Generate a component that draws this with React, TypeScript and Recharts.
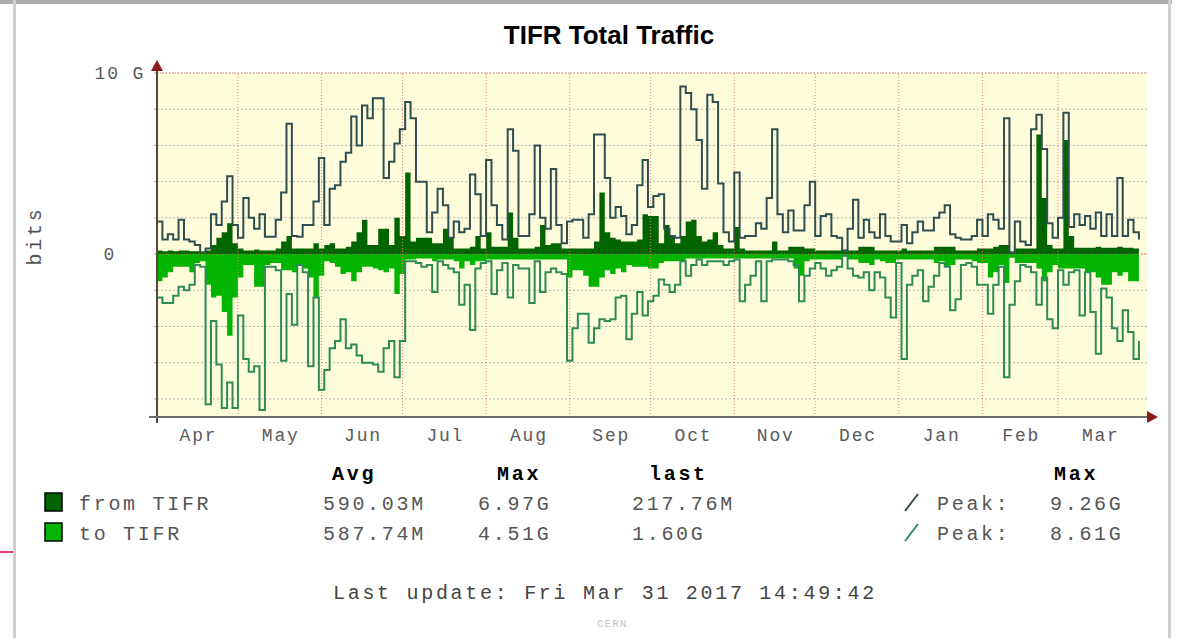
import {
  ComposedChart,
  Area,
  Line,
  XAxis,
  YAxis,
  CartesianGrid,
  ReferenceLine,
} from "recharts";

// one sample every 2 days, starting Apr 1 2016 (values in Gbit/s)
const STEP_DAYS = 2;

const fromMax = [
  1.8, 0.8, 1.1, 0.8, 1.9, 0.8, 0.7, 0.5, 0.1, 0.3,
  2.2, 1.6, 2.9, 4.3, 1.6, 0.9, 3.1, 2.0, 1.4, 2.2,
  0.95, 0.95, 1.9, 3.4, 7.2, 1.0, 0.95, 1.6, 1.6, 2.9,
  5.3, 1.6, 3.6, 3.8, 5.1, 5.6, 7.6, 6.0, 8.2, 7.5,
  8.6, 8.6, 4.2, 5.1, 6.1, 6.9, 8.4, 7.5, 4.0, 4.0,
  1.2, 2.3, 3.6, 2.7, 0.9, 1.8, 1.2, 1.4, 4.4, 3.3,
  1.0, 5.2, 2.7, 1.6, 0.8, 6.9, 5.7, 1.0, 1.0, 2.2,
  6.0, 2.0, 1.4, 4.7, 1.6, 0.6, 1.8, 1.9, 1.9, 0.9,
  2.2, 6.6, 6.6, 4.2, 2.0, 2.6, 2.1, 1.1, 1.6, 3.8,
  5.2, 2.6, 3.2, 3.3, 1.4, 1.0, 0.9, 9.26, 8.9, 8.0,
  6.3, 3.6, 8.8, 8.4, 3.9, 1.2, 0.7, 4.5, 0.9, 1.0,
  1.0, 1.7, 1.4, 3.1, 6.9, 2.2, 1.2, 2.4, 1.3, 1.3,
  2.7, 4.0, 1.0, 2.1, 2.2, 1.0, 0.9, 0.2, 1.4, 3.0,
  0.9, 1.9, 1.2, 0.9, 2.2, 1.0, 0.7, 0.7, 1.6, 0.6,
  1.2, 1.8, 1.3, 1.3, 2.0, 2.3, 2.7, 1.1, 0.9, 0.8,
  0.8, 1.0, 1.9, 1.0, 2.2, 1.9, 1.4, 7.5, 0.1, 1.8,
  0.7, 0.5, 6.9, 7.7, 5.8, 1.7, 0.9, 2.0, 7.8, 1.5,
  2.2, 1.6, 2.1, 1.4, 2.3, 1.0, 2.2, 1.0, 4.2, 1.0,
  1.9, 1.2, 0.8,
];

const fromAvg = [
  0.2, 0.15, 0.2, 0.15, 0.2, 0.2, 0.15, 0.15, 0.1, 0.2,
  0.5, 0.9, 1.2, 1.7, 0.6, 0.3, 0.2, 0.2, 0.25, 0.2,
  0.2, 0.2, 0.3, 0.7, 1.0, 0.3, 0.3, 0.3, 0.3, 0.6,
  0.3, 0.5, 0.6, 0.3, 0.3, 0.4, 0.7, 1.2, 1.9, 0.5,
  0.5, 1.4, 1.4, 0.5, 2.0, 1.0, 4.5, 0.7, 0.9, 0.9,
  0.9, 0.6, 0.6, 1.4, 0.9, 0.3, 0.3, 0.3, 0.4, 1.0,
  0.3, 1.2, 0.4, 0.4, 0.4, 2.3, 0.9, 0.3, 0.3, 0.3,
  0.4, 1.6, 0.5, 0.6, 0.6, 0.3, 0.3, 0.3, 0.3, 0.3,
  0.3, 0.7, 3.4, 1.2, 0.9, 0.8, 0.7, 0.7, 0.7, 0.8,
  2.2, 2.1, 2.1, 0.6, 1.6, 1.0, 0.6, 1.0, 1.8, 1.9,
  1.0, 0.7, 0.8, 1.2, 0.5, 0.3, 0.3, 1.5, 0.3, 0.2,
  0.2, 0.2, 0.2, 0.2, 0.7, 0.2, 0.2, 0.4, 0.4, 0.4,
  0.3, 0.3, 0.2, 0.2, 0.2, 0.2, 0.2, 0.15, 0.2, 0.2,
  0.4, 0.4, 0.4, 0.2, 0.2, 0.2, 0.2, 0.2, 0.3, 0.2,
  0.2, 0.2, 0.2, 0.2, 0.4, 0.4, 0.4, 0.4, 0.2, 0.2,
  0.2, 0.2, 0.3, 0.3, 0.3, 0.4, 0.5, 0.5, 0.1, 0.3,
  0.3, 0.3, 0.3, 6.6, 3.1, 0.5, 0.3, 0.3, 6.3, 1.0,
  0.35, 0.35, 0.35, 0.35, 0.4, 0.35, 0.35, 0.35, 0.4, 0.35,
  0.35, 0.3, 0.22,
];

const toMax = [
  2.4, 2.7, 2.7, 2.3, 1.8, 2.0, 1.7, 0.6, 0.7, 8.3,
  3.7, 6.1, 8.5, 7.1, 8.5, 3.4, 5.8, 6.5, 6.2, 8.61,
  0.7, 0.7, 0.9, 5.9, 2.2, 3.9, 0.6, 1.0, 6.2, 2.4,
  7.5, 6.4, 5.2, 4.8, 3.6, 5.2, 5.0, 5.6, 6.0, 6.0,
  6.1, 6.5, 5.2, 4.8, 6.8, 4.8, 0.4, 0.4, 0.5, 0.7,
  0.6, 2.1, 0.4, 0.6, 0.8, 1.0, 2.8, 1.7, 4.2, 0.8,
  0.5, 0.4, 2.2, 0.9, 0.5, 2.4, 0.6, 0.8, 0.8, 2.7,
  0.4, 2.1, 1.0, 0.8, 1.0, 1.1, 5.9, 4.1, 3.3, 3.3,
  4.9, 4.1, 3.6, 3.7, 3.6, 2.4, 2.3, 4.7, 3.3, 2.1,
  3.4, 2.6, 2.3, 1.4, 1.7, 2.1, 1.7, 0.4, 1.2, 0.6,
  0.3, 0.6, 0.4, 0.4, 0.4, 0.6, 0.4, 0.3, 2.6, 1.7,
  1.2, 0.4, 2.6, 0.4, 0.3, 0.3, 0.3, 0.4, 0.6, 2.6,
  1.2, 0.8, 0.5, 0.8, 1.2, 0.9, 0.7, 0.1, 0.8, 1.2,
  1.3, 1.0, 2.0, 1.0, 1.3, 2.4, 3.5, 0.5, 5.8, 1.7,
  1.2, 0.9, 2.6, 1.8, 1.2, 0.5, 0.7, 3.1, 2.5, 0.6,
  0.5, 0.7, 1.7, 1.7, 3.3, 1.7, 0.7, 6.8, 2.8, 1.5,
  0.6, 0.7, 1.0, 2.8, 1.3, 3.6, 4.1, 0.9, 1.7, 1.0,
  0.9, 3.4, 1.0, 3.2, 5.5, 1.9, 2.4, 4.1, 4.8, 3.1,
  4.3, 5.8, 4.8,
];

const toAvg = [
  1.5, 1.3, 1.0, 0.7, 0.7, 0.7, 1.0, 0.5, 0.4, 1.7,
  2.4, 2.3, 3.2, 4.51, 2.4, 1.3, 0.6, 0.6, 1.8, 1.8,
  0.6, 0.5, 0.5, 0.9, 0.9, 1.0, 0.6, 0.8, 1.3, 2.4,
  1.2, 0.4, 0.5, 0.7, 1.1, 1.0, 1.5, 1.0, 0.7, 0.7,
  0.8, 0.9, 1.0, 0.8, 2.2, 1.1, 0.3, 0.3, 0.25, 0.25,
  0.25, 0.4, 0.3, 0.3, 0.3, 0.4, 0.8, 0.4, 0.6, 0.4,
  0.4, 0.3, 0.3, 0.3, 0.3, 0.3, 0.3, 0.3, 0.3, 0.3,
  0.3, 0.3, 0.3, 0.3, 0.3, 0.3, 1.3, 0.9, 0.9, 1.2,
  1.8, 1.8, 1.3, 0.9, 1.1, 0.8, 1.0, 0.6, 0.7, 0.7,
  0.7, 0.8, 0.8, 0.5, 0.4, 0.4, 0.4, 0.4, 0.25, 0.25,
  0.25, 0.25, 0.25, 0.25, 0.25, 0.25, 0.25, 0.25, 0.25, 0.25,
  0.25, 0.25, 0.25, 0.25, 0.25, 0.25, 0.25, 0.25, 0.8, 1.2,
  0.4, 0.3, 0.3, 0.3, 0.3, 0.3, 0.3, 0.1, 0.3, 0.3,
  0.5, 0.5, 0.6, 0.3, 0.4, 0.5, 0.5, 0.3, 0.3, 0.3,
  0.3, 0.3, 0.3, 0.3, 0.5, 0.4, 0.7, 0.6, 0.3, 0.3,
  0.3, 0.4, 0.5, 0.5, 1.3, 1.0, 0.6, 1.6, 0.2, 0.5,
  0.5, 0.5, 0.5, 0.8, 1.5, 1.0, 0.6, 0.8, 0.8, 0.8,
  0.8, 0.8, 1.0, 1.0, 1.3, 1.7, 1.7, 1.0, 1.2, 1.0,
  1.5, 1.5, 1.6,
];

const monthNames = ["Apr", "May", "Jun", "Jul", "Aug", "Sep", "Oct", "Nov", "Dec", "Jan", "Feb", "Mar"];
const monthStarts = [0, 30, 61, 91, 122, 153, 183, 214, 244, 275, 306, 334];
const monthMids = [15, 45.5, 76, 106.5, 137.5, 168, 198.5, 229, 259.5, 290.5, 320, 349.5];
const yTicks = [-8, -6, -4, -2, 0, 2, 4, 6, 8, 10];
const yLabels: Record<number, string> = { 10: "10 G", 0: "0" };

const legendRows = [
  { name: "from TIFR", avg: "590.03M", max: "6.97G", last: "217.76M", peak: "9.26G", fill: "#006400", line: "#2f4f4f" },
  { name: "to TIFR", avg: "587.74M", max: "4.51G", last: "1.60G", peak: "8.61G", fill: "#00b400", line: "#2e8b57" },
];

const data = fromMax.map((v, i) => ({
  day: i * STEP_DAYS,
  fmax: v,
  favg: fromAvg[i],
  tmax: -toMax[i],
  tavg: -toAvg[i],
}));

const MONO = '"Liberation Mono", "DejaVu Sans Mono", monospace';

function YTick(props: any) {
  const { x, y, payload } = props;
  const label = yLabels[payload.value];
  if (!label) return <g />;
  const end = payload.value === 0 ? x - 38 : x - 9;
  return (
    <text x={end} y={y + 6} textAnchor="end" fontFamily={MONO} fontSize={18} fill="#5a5a5a" style={{ letterSpacing: "1.8px" }}>
      {label}
    </text>
  );
}

function MonthTick(props: any) {
  const { x, y, payload } = props;
  const i = monthMids.indexOf(payload.value);
  return (
    <text x={x + 1} y={y + 18} textAnchor="middle" fontFamily={MONO} fontSize={18} fill="#5a5a5a" style={{ letterSpacing: "1.8px" }}>
      {monthNames[i]}
    </text>
  );
}

const legendText = { fontFamily: MONO, fontSize: 20, fill: "#555", style: { letterSpacing: "2.7px" } };
const headText = { fontFamily: MONO, fontSize: 20, fill: "#000", fontWeight: 700, style: { letterSpacing: "2.7px" } };

export default function App() {
  return (
    <div style={{ position: "absolute", left: 0, top: 0, width: 1179, height: 638, background: "#fff" }}>
      <ComposedChart width={1179} height={638} data={data} margin={{ top: 73, right: 32, bottom: 185, left: 97 }}>
        <CartesianGrid
          xAxisId="b"
          yAxisId="y"
          vertical={false}
          stroke="#b4b4b4"
          strokeDasharray="2 2"
          fill="#fffcdc"
          fillOpacity={1}
        />
        <XAxis
          xAxisId="b"
          type="number"
          dataKey="day"
          domain={[0, 367]}
          ticks={monthStarts}
          interval={0}
          height={6}
          axisLine={false}
          tick={false}
          tickSize={4}
          tickLine={{ stroke: "#e08080" }}
          allowDataOverflow
        />
        <XAxis
          xAxisId="m"
          type="number"
          dataKey="day"
          domain={[0, 367]}
          ticks={monthMids}
          interval={0}
          height={30}
          axisLine={false}
          tickLine={false}
          tickSize={0}
          tickMargin={0}
          tick={<MonthTick />}
          allowDataOverflow
        />
        <YAxis
          yAxisId="y"
          type="number"
          domain={[-9, 10]}
          ticks={yTicks}
          interval={0}
          width={60}
          axisLine={false}
          tickSize={3}
          tickMargin={0}
          tickLine={{ stroke: "#a0a0a0" }}
          tick={<YTick />}
          allowDataOverflow
        />
        {monthStarts.slice(1).map((d) => (
          <ReferenceLine key={d} xAxisId="b" yAxisId="y" x={d} stroke="#ec7a7a" strokeDasharray="1 2" />
        ))}
        <Area
          xAxisId="b"
          yAxisId="y"
          type="stepAfter"
          dataKey="favg"
          stroke="none"
          fill="#006400"
          fillOpacity={1}
          baseValue={0}
          dot={false}
          activeDot={false}
          isAnimationActive={false}
        />
        <Area
          xAxisId="b"
          yAxisId="y"
          type="stepAfter"
          dataKey="tavg"
          stroke="none"
          fill="#00b400"
          fillOpacity={1}
          baseValue={0}
          dot={false}
          activeDot={false}
          isAnimationActive={false}
        />
        <Line
          xAxisId="b"
          yAxisId="y"
          type="stepAfter"
          dataKey="tmax"
          stroke="#2e8b57"
          strokeWidth={2}
          dot={false}
          activeDot={false}
          isAnimationActive={false}
        />
        <Line
          xAxisId="b"
          yAxisId="y"
          type="stepAfter"
          dataKey="fmax"
          stroke="#2f4f4f"
          strokeWidth={2}
          dot={false}
          activeDot={false}
          isAnimationActive={false}
        />
        <ReferenceLine xAxisId="b" yAxisId="y" y={0} stroke="#e05a5a" strokeDasharray="1 2" />
        <ReferenceLine xAxisId="b" yAxisId="y" y={10} stroke="#ec7a7a" strokeDasharray="1 2" />
      </ComposedChart>

      <svg width={1179} height={638} style={{ position: "absolute", left: 0, top: 0, pointerEvents: "none" }}>
        {/* frame */}
        <rect x={0} y={0} width={1172} height={4} fill="#adadad" />
        <rect x={13} y={0} width={3} height={638} fill="#cfcfcf" />
        <rect x={1168} y={0} width={3} height={638} fill="#cfcfcf" />
        <rect x={0} y={551} width={13} height={2} fill="#e0407a" />

        <text x={609} y={44} textAnchor="middle" fontFamily='"Liberation Sans", Arial, sans-serif' fontWeight={700} fontSize={26}>
          TIFR Total Traffic
        </text>
        <text
          x={41}
          y={236}
          textAnchor="middle"
          transform="rotate(-90 41 236)"
          fontFamily={MONO}
          fontSize={20}
          fill="#555"
          style={{ letterSpacing: "2.7px" }}
        >
          bits
        </text>

        {/* axes with arrows */}
        <line x1={157} y1={423} x2={157} y2={66} stroke="#5e4646" strokeWidth={2} />
        <polygon points="157,60 151,71 163,71" fill="#8b1a1a" />
        <line x1={149} y1={417} x2={1150} y2={417} stroke="#6e6e6e" strokeWidth={2} />
        <polygon points="1158,417 1147,411 1147,423" fill="#8b1a1a" />

        {/* legend */}
        <text x={332} y={480} {...headText}>Avg</text>
        <text x={497} y={480} {...headText}>Max</text>
        <text x={649} y={480} {...headText}>last</text>
        <text x={1054} y={480} {...headText}>Max</text>
        {legendRows.map((r, i) => {
          const by = 510 + i * 30;
          return (
            <g key={r.name}>
              <rect x={45} y={by - 17} width={17} height={18} fill={r.fill} stroke="#000" strokeWidth={1.5} />
              <text x={79} y={by} {...legendText}>{r.name}</text>
              <text x={323} y={by} {...legendText}>{r.avg}</text>
              <text x={478} y={by} {...legendText}>{r.max}</text>
              <text x={632} y={by} {...legendText}>{r.last}</text>
              <line x1={905} y1={by + 1} x2={918} y2={by - 16} stroke={r.line} strokeWidth={2} />
              <text x={937} y={by} {...legendText}>Peak:</text>
              <text x={1050} y={by} {...legendText}>{r.peak}</text>
            </g>
          );
        })}
        <text x={333} y={599} {...legendText} fill="#444">
          Last update: Fri Mar 31 2017 14:49:42
        </text>
        <text x={597} y={627} fontFamily={MONO} fontSize={11} fill="#c4c4c4" style={{ letterSpacing: "1px" }}>
          CERN
        </text>
      </svg>
    </div>
  );
}
